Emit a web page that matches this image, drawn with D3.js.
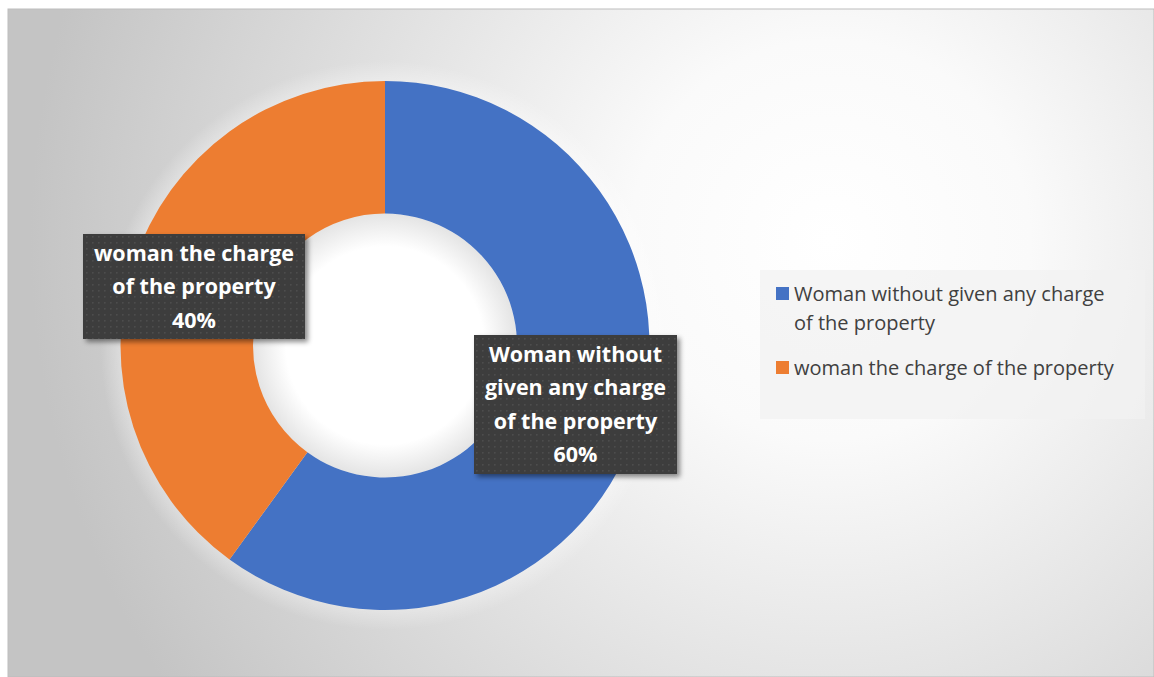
<!DOCTYPE html>
<html>
<head>
<meta charset="utf-8">
<script src="https://cdn.jsdelivr.net/npm/d3@7"></script>
<style>
  body { margin: 0; background: #fff; }
  svg { display: block; font-family: "Open Sans", Lato, sans-serif; }
</style>
</head>
<body>
<div id="chart"></div>
<script>
// data
var categories = ["Woman without given any charge of the property", "woman the charge of the property"];
var values = [60, 40];
var colors = ["#4472C4", "#ED7D31"];
// label / legend lines (wrapped like the original)
var labelLines = [
  ["Woman without", "given any charge", "of the property"],
  ["woman the charge", "of the property"]
];
var legendLines = [
  ["Woman without given any charge", "of the property"],
  ["woman the charge of the property"]
];

var W = 1154, H = 677;
var svg = d3.select("#chart").append("svg").attr("width", W).attr("height", H);
var defs = svg.append("defs");

var bg = defs.append("radialGradient").attr("id", "bg")
  .attr("gradientUnits", "userSpaceOnUse")
  .attr("cx", 830).attr("cy", 240).attr("r", 800);
bg.append("stop").attr("offset", "0%").attr("stop-color", "#ffffff");
bg.append("stop").attr("offset", "25%").attr("stop-color", "#fafafa");
bg.append("stop").attr("offset", "100%").attr("stop-color", "#c4c4c4");

var hole = defs.append("radialGradient").attr("id", "hole");
hole.append("stop").attr("offset", "0%").attr("stop-color", "#ffffff");
hole.append("stop").attr("offset", "75%").attr("stop-color", "#ffffff");
hole.append("stop").attr("offset", "100%").attr("stop-color", "#e4e4e4");

var glow = defs.append("radialGradient").attr("id", "glow");
glow.append("stop").attr("offset", "90%").attr("stop-color", "#ffffff").attr("stop-opacity", 0.45);
glow.append("stop").attr("offset", "100%").attr("stop-color", "#ffffff").attr("stop-opacity", 0);

var dots = defs.append("pattern").attr("id", "dots")
  .attr("patternUnits", "userSpaceOnUse").attr("width", 6).attr("height", 6);
dots.append("rect").attr("width", 6).attr("height", 6).attr("fill", "#3d3d3d");
dots.append("rect").attr("x", 2).attr("y", 2).attr("width", 1.5).attr("height", 1.5).attr("fill", "#4e4e4e");

var sh = defs.append("filter").attr("id", "shadow").attr("x", "-10%").attr("y", "-10%").attr("width", "130%").attr("height", "130%");
sh.append("feDropShadow").attr("dx", 3).attr("dy", 3).attr("stdDeviation", 2.5)
  .attr("flood-color", "#000").attr("flood-opacity", 0.45);

// background
svg.append("rect").attr("x", 8).attr("y", 9).attr("width", W - 8).attr("height", H - 9)
  .attr("fill", "url(#bg)").attr("stroke", "#bdbdbd").attr("stroke-width", 1);

// donut
var cx = 385, cy = 345.5, outerR = 264.5, innerR = 132;
var pie = d3.pie().sort(null).value(function(d) { return d; });
var arc = d3.arc().innerRadius(innerR).outerRadius(outerR);
var arcs = pie(values);

var g = svg.append("g").attr("transform", "translate(" + cx + "," + cy + ")");
g.append("circle").attr("r", outerR + 20).attr("fill", "url(#glow)");
g.append("circle").attr("r", innerR).attr("fill", "url(#hole)");
g.selectAll("path.slice").data(arcs).enter().append("path")
  .attr("class", "slice")
  .attr("d", arc)
  .attr("fill", function(d, i) { return colors[i]; });

// data labels
var pct = d3.format(".0%");
var total = d3.sum(values);
var boxes = [
  {x: 474, y: 335, w: 203, h: 139},
  {x: 83, y: 234, w: 222, h: 105}
];
var lineH = 33.5;
arcs.forEach(function(a, i) {
  var b = boxes[i];
  var lab = svg.append("g");
  lab.append("rect").attr("x", b.x).attr("y", b.y).attr("width", b.w).attr("height", b.h)
    .attr("fill", "url(#dots)").attr("filter", "url(#shadow)");
  var lines = labelLines[i].concat([pct(values[i] / total)]);
  var startY = b.y + b.h / 2 - (lines.length - 1) * lineH / 2;
  lab.selectAll("text").data(lines).enter().append("text")
    .attr("x", b.x + b.w / 2)
    .attr("y", function(d, j) { return startY + j * lineH; })
    .attr("dy", "0.35em")
    .attr("text-anchor", "middle")
    .attr("fill", "#ffffff")
    .attr("font-weight", "bold")
    .attr("font-size", "21.5px")
    .text(function(d) { return d; });
});

// legend
var legend = svg.append("g");
legend.append("rect").attr("x", 760).attr("y", 270).attr("width", 385).attr("height", 149)
  .attr("fill", "#f2f2f2").attr("fill-opacity", 0.75);
var legY = [294, 368];
categories.forEach(function(c, i) {
  legend.append("rect").attr("x", 776).attr("y", legY[i] - 7).attr("width", 13).attr("height", 13)
    .attr("fill", colors[i]);
  legendLines[i].forEach(function(t, j) {
    legend.append("text")
      .attr("x", 794).attr("y", legY[i] + j * 29)
      .attr("dy", "0.35em")
      .attr("fill", "#404040")
      .attr("font-size", "20px")
      .text(t);
  });
});
</script>
</body>
</html>
